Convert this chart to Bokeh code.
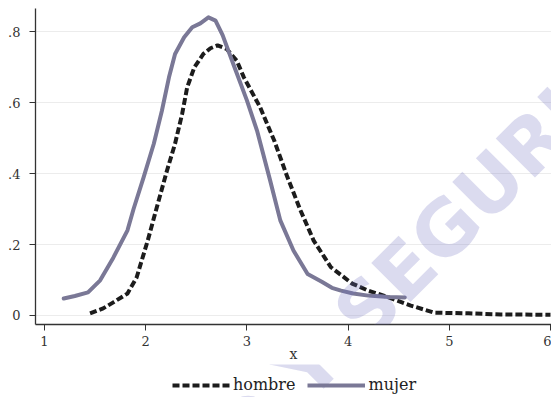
import math
from bokeh.plotting import figure
from bokeh.layouts import column
from bokeh.models import Legend, LegendItem, FixedTicker, Range1d, Label
from bokeh.embed import file_html
from bokeh.resources import INLINE

# ---- data ----
hombre_x = [1.45, 1.58, 1.68, 1.82, 1.91, 2.02, 2.11, 2.21, 2.29, 2.36, 2.41, 2.48,
            2.57, 2.64, 2.71, 2.80, 2.90, 2.97, 3.13, 3.27, 3.40, 3.53, 3.66, 3.83,
            4.04, 4.20, 4.40, 4.62, 4.85, 5.19, 5.51, 6.00]
hombre_y = [0.006, 0.020, 0.037, 0.062, 0.107, 0.211, 0.305, 0.408, 0.484, 0.568,
            0.643, 0.699, 0.737, 0.753, 0.761, 0.751, 0.718, 0.671, 0.587, 0.493,
            0.390, 0.296, 0.211, 0.136, 0.090, 0.070, 0.051, 0.028, 0.008, 0.006,
            0.003, 0.002]

mujer_x = [1.19, 1.30, 1.43, 1.55, 1.68, 1.82, 1.88, 1.98, 2.08, 2.16, 2.23, 2.29,
           2.38, 2.46, 2.54, 2.62, 2.69, 2.76, 2.87, 3.00, 3.10, 3.23, 3.33, 3.46,
           3.60, 3.74, 3.84, 3.93, 4.05, 4.20, 4.40, 4.56]
mujer_y = [0.048, 0.055, 0.065, 0.099, 0.163, 0.240, 0.300, 0.390, 0.484, 0.577,
           0.671, 0.737, 0.784, 0.812, 0.823, 0.840, 0.831, 0.790, 0.705, 0.606,
           0.521, 0.380, 0.268, 0.183, 0.117, 0.095, 0.078, 0.070, 0.062, 0.056,
           0.052, 0.051]

x_ticks = [1, 2, 3, 4, 5, 6]
y_ticks = [0, 0.2, 0.4, 0.6, 0.8]
y_tick_labels = ["0", ".2", ".4", ".6", ".8"]
series_labels = ["hombre", "mujer"]
x_label = "x"
watermark = "O Y SEGURI"

SERIF = "DejaVu Serif"
H_COLOR, M_COLOR = "#1c1c1c", "#7a7896"
H_DASH = "7 3"
WM_STYLE = dict(angle=math.pi / 4, text_font="DejaVu Sans", text_font_style="bold",
                text_font_size="76px", text_color="#6e6ebe", text_alpha=0.25,
                text_align="left", text_baseline="alphabetic")

# ---------------- main plot ----------------
p = figure(width=551, height=364, output_backend="svg", toolbar_location=None,
           x_range=Range1d(0.911, 6.01), y_range=Range1d(-0.0254, 0.865),
           min_border_left=35, min_border_right=0, min_border_top=8,
           min_border_bottom=40)
p.outline_line_color = None
p.background_fill_color = "white"
p.border_fill_color = "white"

p.line(hombre_x, hombre_y, line_color=H_COLOR, line_width=4,
       line_dash=H_DASH, line_cap="butt", line_join="round")
p.line(mujer_x, mujer_y, line_color=M_COLOR, line_width=4,
       line_join="round", line_cap="round")

# watermark (anchor position in plot space)
p.add_layout(Label(x=2.795, y=-0.376, text=watermark, **WM_STYLE))

for ax in (p.xaxis[0], p.yaxis[0]):
    ax.axis_line_color = "#333333"
    ax.axis_line_width = 1.3
    ax.major_tick_line_color = "#333333"
    ax.major_tick_in = 0
    ax.major_tick_out = 6
    ax.minor_tick_line_color = None
    ax.major_label_text_font = SERIF
    ax.major_label_text_font_size = "13px"
    ax.major_label_text_color = "#333333"

p.xaxis.ticker = FixedTicker(ticks=x_ticks)
p.xaxis.major_label_standoff = 5
p.xaxis.axis_label = x_label
p.xaxis.axis_label_text_font = SERIF
p.xaxis.axis_label_text_font_size = "14px"
p.xaxis.axis_label_text_font_style = "normal"
p.xaxis.axis_label_text_color = "#333333"
p.xaxis.axis_label_standoff = -3

p.yaxis.ticker = FixedTicker(ticks=y_ticks)
p.yaxis.major_label_overrides = {t: l for t, l in zip(y_ticks, y_tick_labels)}
p.yaxis.major_label_orientation = "horizontal"
p.yaxis.major_label_standoff = 9

p.xgrid.grid_line_color = None
p.ygrid.grid_line_color = "#ececec"
p.ygrid.grid_line_width = 1.2

# ---------------- legend strip (pixel coordinates; frame aligned at x=35) ----------------
lg = figure(width=551, height=33, output_backend="svg", toolbar_location=None,
            x_range=Range1d(-565, -49), y_range=Range1d(0, 33),
            x_axis_type=None, y_axis_type=None,
            min_border_left=35, min_border_right=0, min_border_top=0,
            min_border_bottom=0)
lg.outline_line_color = None
lg.background_fill_color = "white"
lg.border_fill_color = "white"

# same series drawn here only to supply legend samples (they fall outside this strip's view)
lr_h = lg.line(hombre_x, hombre_y, line_color=H_COLOR, line_width=4,
               line_dash=H_DASH, line_cap="butt")
lr_m = lg.line(mujer_x, mujer_y, line_color=M_COLOR, line_width=4)

lg.add_layout(Label(x=-374.3, y=-51.5, text=watermark, **WM_STYLE))

legend = Legend(items=[LegendItem(label=series_labels[0], renderers=[lr_h]),
                       LegendItem(label=series_labels[1], renderers=[lr_m])],
                orientation="horizontal", location=(137, 3),
                border_line_color=None, background_fill_alpha=0,
                label_text_font=SERIF, label_text_font_size="16px",
                label_text_color="#222222",
                glyph_width=58, glyph_height=16, label_standoff=3, spacing=12,
                padding=0, margin=0)
lg.add_layout(legend, "center")

layout = column(p, lg, spacing=0)
open("out.html", "w").write(file_html(layout, INLINE))
